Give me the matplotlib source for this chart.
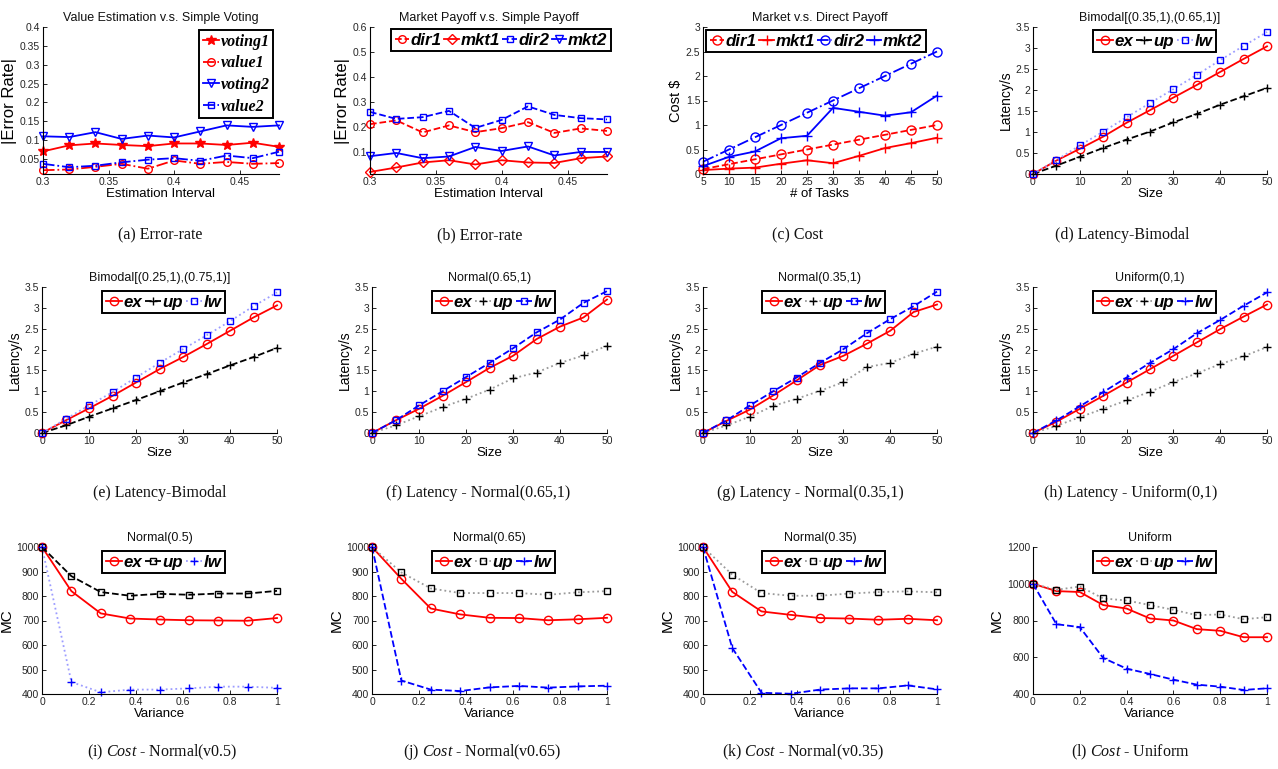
import matplotlib
matplotlib.use('Agg')
import matplotlib.pyplot as plt
from matplotlib.ticker import FuncFormatter
from matplotlib import font_manager

W, H = 1278, 769
plt.rcParams['font.family'] = ['Liberation Sans', 'DejaVu Sans']
plt.rcParams['mathtext.fontset'] = 'custom'
plt.rcParams['mathtext.rm'] = 'Liberation Serif'
plt.rcParams['mathtext.it'] = 'Liberation Serif:italic'
plt.rcParams['legend.numpoints'] = 1

_names = {f.name for f in font_manager.fontManager.ttflist}
LEG_FAMILY = 'Liberation Sans Narrow' if 'Liberation Sans Narrow' in _names else 'Liberation Sans'

# ---------------- data ----------------
est_interval = [0.30, 0.32, 0.34, 0.36, 0.38, 0.40, 0.42, 0.44, 0.46, 0.48]
a_voting1 = [0.070, 0.086, 0.091, 0.087, 0.084, 0.091, 0.091, 0.087, 0.093, 0.082]
a_value1 = [0.020, 0.022, 0.029, 0.037, 0.024, 0.046, 0.037, 0.042, 0.037, 0.039]
a_voting2 = [0.110, 0.108, 0.121, 0.103, 0.112, 0.107, 0.123, 0.139, 0.135, 0.139]
a_value2 = [0.037, 0.028, 0.032, 0.041, 0.048, 0.052, 0.045, 0.059, 0.052, 0.069]

b_dir1 = [0.212, 0.227, 0.179, 0.207, 0.180, 0.196, 0.220, 0.177, 0.195, 0.185]
b_mkt1 = [0.021, 0.039, 0.059, 0.068, 0.051, 0.068, 0.059, 0.057, 0.076, 0.083]
b_dir2 = [0.261, 0.233, 0.240, 0.265, 0.197, 0.229, 0.283, 0.249, 0.236, 0.231]
b_mkt2 = [0.084, 0.097, 0.076, 0.083, 0.121, 0.105, 0.123, 0.087, 0.101, 0.101]

tasks = [5, 10, 15, 20, 25, 30, 35, 40, 45, 50]
c_dir1 = [0.1, 0.2, 0.3, 0.4, 0.5, 0.6, 0.7, 0.8, 0.9, 1.0]
c_mkt1 = [0.08, 0.11, 0.13, 0.21, 0.28, 0.22, 0.37, 0.53, 0.63, 0.74]
c_dir2 = [0.25, 0.5, 0.75, 1.0, 1.25, 1.5, 1.75, 2.0, 2.25, 2.5]
c_mkt2 = [0.16, 0.35, 0.46, 0.73, 0.78, 1.35, 1.27, 1.19, 1.26, 1.60]

sizes = [0, 5, 10, 15, 20, 25, 30, 35, 40, 45, 50]
d_ex = [0, 0.32, 0.60, 0.89, 1.22, 1.52, 1.82, 2.12, 2.43, 2.74, 3.04]
d_up = [0, 0.20, 0.41, 0.62, 0.82, 1.01, 1.23, 1.43, 1.65, 1.85, 2.05]
d_lw = [0, 0.33, 0.68, 1.01, 1.35, 1.69, 2.02, 2.36, 2.71, 3.05, 3.38]

e_ex = [0, 0.30, 0.59, 0.89, 1.21, 1.53, 1.82, 2.13, 2.45, 2.77, 3.06]
e_up = [0, 0.18, 0.39, 0.59, 0.79, 1.00, 1.21, 1.41, 1.62, 1.82, 2.04]
e_lw = [0, 0.33, 0.66, 0.98, 1.33, 1.68, 2.01, 2.34, 2.68, 3.04, 3.37]

f_ex = [0, 0.30, 0.58, 0.89, 1.22, 1.56, 1.85, 2.25, 2.55, 2.77, 3.20]
f_up = [0, 0.18, 0.40, 0.62, 0.82, 1.04, 1.31, 1.45, 1.68, 1.86, 2.09]
f_lw = [0, 0.30, 0.66, 1.00, 1.34, 1.68, 2.03, 2.41, 2.72, 3.12, 3.40]

g_ex = [0, 0.29, 0.56, 0.90, 1.26, 1.63, 1.85, 2.14, 2.45, 2.90, 3.08]
g_up = [0, 0.18, 0.39, 0.65, 0.82, 1.01, 1.22, 1.58, 1.68, 1.90, 2.07]
g_lw = [0, 0.30, 0.66, 1.00, 1.33, 1.68, 2.01, 2.39, 2.73, 3.04, 3.39]

h_ex = [0, 0.27, 0.58, 0.89, 1.21, 1.53, 1.85, 2.17, 2.49, 2.79, 3.08]
h_up = [0, 0.17, 0.38, 0.58, 0.78, 0.99, 1.22, 1.43, 1.65, 1.84, 2.06]
h_lw = [0, 0.30, 0.64, 0.98, 1.33, 1.68, 2.01, 2.39, 2.71, 3.05, 3.37]

variance9 = [0, 0.125, 0.25, 0.375, 0.5, 0.625, 0.75, 0.875, 1.0]
i_ex = [1000, 820, 729, 708, 704, 701, 700, 699, 710]
i_up = [1000, 881, 816, 801, 809, 805, 810, 810, 821]
i_lw = [1000, 449, 407, 418, 418, 423, 430, 430, 425]

j_ex = [1000, 870, 749, 725, 711, 710, 701, 705, 711]
j_up = [1000, 896, 831, 812, 812, 812, 805, 815, 820]
j_lw = [1000, 455, 418, 412, 427, 433, 426, 431, 434]

k_ex = [1000, 817, 737, 723, 710, 708, 703, 707, 701]
k_up = [1000, 887, 812, 801, 801, 810, 816, 819, 815]
k_lw = [1000, 588, 405, 401, 418, 423, 423, 435, 419]

variance11 = [0, 0.1, 0.2, 0.3, 0.4, 0.5, 0.6, 0.7, 0.8, 0.9, 1.0]
l_ex = [1000, 960, 955, 884, 865, 811, 800, 753, 744, 709, 709]
l_up = [1000, 967, 985, 920, 909, 884, 858, 829, 833, 807, 818]
l_lw = [1000, 780, 764, 596, 538, 509, 478, 451, 440, 422, 431]

titles = ["Value Estimation v.s. Simple Voting", "Market Payoff v.s. Simple Payoff",
          "Market v.s. Direct Payoff", "Bimodal[(0.35,1),(0.65,1)]",
          "Bimodal[(0.25,1),(0.75,1)]", "Normal(0.65,1)", "Normal(0.35,1)", "Uniform(0,1)",
          "Normal(0.5)", "Normal(0.65)", "Normal(0.35)", "Uniform"]
captions = ["(a) Error-rate", "(b) Error-rate", "(c) Cost", "(d) Latency-Bimodal",
            "(e) Latency-Bimodal", "(f) Latency - Normal(0.65,1)",
            "(g) Latency - Normal(0.35,1)", "(h) Latency - Uniform(0,1)",
            r"(i) $\it{Cost}$ - Normal(v0.5)", r"(j) $\it{Cost}$ - Normal(v0.65)",
            r"(k) $\it{Cost}$ - Normal(v0.35)", r"(l) $\it{Cost}$ - Uniform"]

# ---------------- layout ----------------
fig = plt.figure(figsize=(W / 100, H / 100), dpi=100)

def rect(l, t, r, b):
    return [l / W, 1 - b / H, (r - l) / W, (b - t) / H]

cols1 = [(43, 279), (370, 607), (703, 937), (1033, 1267)]
cols = [(42, 277), (372, 607), (703, 937), (1033, 1267)]
rows = [(27, 174), (287, 433), (547, 694)]

fmt = FuncFormatter(lambda v, p: '%g' % round(v, 6))
TICKC = '#262626'

def make_ax(idx, xlim, ylim, xticks, yticks, xlabel, ylabel, ylsize=10):
    r, c = divmod(idx, 4)
    l, rr = (cols1 if r == 0 else cols)[c]
    t, b = rows[r]
    ax = fig.add_axes(rect(l, t, rr, b))
    ax.set_xlim(xlim)
    ax.set_ylim(ylim)
    ax.set_xticks(xticks)
    ax.set_yticks(yticks)
    ax.xaxis.set_major_formatter(fmt)
    ax.yaxis.set_major_formatter(fmt)
    for s in ('top', 'right'):
        ax.spines[s].set_visible(False)
    for s in ('left', 'bottom'):
        ax.spines[s].set_linewidth(0.8)
    ax.tick_params(direction='in', length=3, width=0.7, labelsize=7.5,
                   pad=2, colors=TICKC)
    ax.set_title(titles[idx], fontsize=9, pad=4, color='#111111')
    ax.set_xlabel(xlabel, fontsize=9.5, labelpad=1)
    ax.set_ylabel(ylabel, fontsize=ylsize, labelpad=2)
    return ax

def plot(ax, x, y, color, ls, marker, label, lc=None, ms=5.5, mfc='none'):
    ax.plot(x, y, color=lc or color, ls=ls, lw=1.3, marker=marker, ms=ms,
            mec=color, mfc=mfc, mew=1.0, label=label, clip_on=False)

def legend(ax, x, y, ncol, serif=False, size=12.2, hl=0.95):
    prop = dict(family=['Liberation Serif'] if serif else [LEG_FAMILY, 'Liberation Sans'],
                weight='bold', style='italic', size=size)
    lg = ax.legend(loc='upper left', bbox_to_anchor=(x / W, 1 - y / H),
                   bbox_transform=fig.transFigure, borderaxespad=0, ncol=ncol,
                   prop=prop, handlelength=hl, handletextpad=0.1,
                   columnspacing=0.15, borderpad=0.22,
                   labelspacing=0.36 if serif else 0.1,
                   fancybox=False, framealpha=1)
    lg.get_frame().set_edgecolor('black')
    lg.get_frame().set_linewidth(1.4)
    return lg

RED, BLUE, BLK = '#ff0000', '#0000ff', '#000000'
LBLUE, GREY = '#9c9cff', '#9a9a9a'

# (a)
ax = make_ax(0, (0.3, 0.48), (0.01, 0.4), [0.3, 0.35, 0.4, 0.45],
             [0.05, 0.1, 0.15, 0.2, 0.25, 0.3, 0.35, 0.4],
             'Estimation Interval', '|Error Rate|', ylsize=12)
plot(ax, est_interval, a_voting1, RED, '-', '*', 'voting1', ms=7, mfc=RED)
plot(ax, est_interval, a_value1, RED, '-.', 'o', 'value1')
plot(ax, est_interval, a_voting2, BLUE, '-', 'v', 'voting2')
plot(ax, est_interval, a_value2, BLUE, '-.', 's', 'value2', ms=5)
legend(ax, 199, 30, 1, serif=True, size=11.5, hl=1.05)

# (b)
ax = make_ax(1, (0.3, 0.48), (0.013, 0.6), [0.3, 0.35, 0.4, 0.45],
             [0.1, 0.2, 0.3, 0.4, 0.5, 0.6],
             'Estimation Interval', '|Error Rate|', ylsize=12)
plot(ax, est_interval, b_dir1, RED, '--', 'o', 'dir1')
plot(ax, est_interval, b_mkt1, RED, '-', 'D', 'mkt1', ms=5)
plot(ax, est_interval, b_dir2, BLUE, '--', 's', 'dir2', ms=5)
plot(ax, est_interval, b_mkt2, BLUE, '-', 'v', 'mkt2')
legend(ax, 391, 29, 4, hl=0.85)

# (c)
ax = make_ax(2, (5, 50), (0, 3), tasks, [0, 0.5, 1, 1.5, 2, 2.5, 3],
             '# of Tasks', 'Cost $', ylsize=10.5)
plot(ax, tasks, c_dir1, RED, '--', 'o', 'dir1', ms=6.5)
plot(ax, tasks, c_mkt1, RED, '-', '+', 'mkt1', ms=6.5)
plot(ax, tasks, c_dir2, BLUE, '-.', 'o', 'dir2', ms=6.5)
plot(ax, tasks, c_mkt2, BLUE, '-', '+', 'mkt2', ms=6.5)
legend(ax, 706, 30, 4, hl=0.85)

lat_ticks_y = [0, 0.5, 1, 1.5, 2, 2.5, 3, 3.5]
lat_ticks_x = [0, 10, 20, 30, 40, 50]

# (d)
ax = make_ax(3, (0, 50), (0, 3.5), lat_ticks_x, lat_ticks_y, 'Size', 'Latency/s')
plot(ax, sizes, d_ex, RED, '-', 'o', 'ex', ms=6)
plot(ax, sizes, d_up, BLK, '--', '+', 'up', ms=6)
plot(ax, sizes, d_lw, BLUE, ':', 's', 'lw', lc=LBLUE, ms=5)
legend(ax, 1093, 30, 3)

# (e)
ax = make_ax(4, (0, 50), (0, 3.5), lat_ticks_x, lat_ticks_y, 'Size', 'Latency/s')
plot(ax, sizes, e_ex, RED, '-', 'o', 'ex', ms=6)
plot(ax, sizes, e_up, BLK, '--', '+', 'up', ms=6)
plot(ax, sizes, e_lw, BLUE, ':', 's', 'lw', lc=LBLUE, ms=5)
legend(ax, 102, 291, 3)

# (f)
ax = make_ax(5, (0, 50), (0, 3.5), lat_ticks_x, lat_ticks_y, 'Size', 'Latency/s')
plot(ax, sizes, f_ex, RED, '-', 'o', 'ex', ms=6)
plot(ax, sizes, f_up, BLK, ':', '+', 'up', lc=GREY, ms=6)
plot(ax, sizes, f_lw, BLUE, '--', 's', 'lw', ms=5)
legend(ax, 432, 291, 3)

# (g)
ax = make_ax(6, (0, 50), (0, 3.5), lat_ticks_x, lat_ticks_y, 'Size', 'Latency/s')
plot(ax, sizes, g_ex, RED, '-', 'o', 'ex', ms=6)
plot(ax, sizes, g_up, BLK, ':', '+', 'up', lc=GREY, ms=6)
plot(ax, sizes, g_lw, BLUE, '--', 's', 'lw', ms=5)
legend(ax, 762, 291, 3)

# (h)
ax = make_ax(7, (0, 50), (0, 3.5), lat_ticks_x, lat_ticks_y, 'Size', 'Latency/s')
plot(ax, sizes, h_ex, RED, '-', 'o', 'ex', ms=6)
plot(ax, sizes, h_up, BLK, ':', '+', 'up', lc=GREY, ms=6)
plot(ax, sizes, h_lw, BLUE, '--', '+', 'lw', ms=6)
legend(ax, 1093, 291, 3)

mc_ticks = [400, 500, 600, 700, 800, 900, 1000]
var_ticks = [0, 0.2, 0.4, 0.6, 0.8, 1]

# (i)
ax = make_ax(8, (0, 1), (400, 1000), var_ticks, mc_ticks, 'Variance', 'MC', ylsize=11)
plot(ax, variance9, i_ex, RED, '-', 'o', 'ex', ms=6)
plot(ax, variance9, i_up, BLK, '--', 's', 'up', ms=5)
plot(ax, variance9, i_lw, BLUE, ':', '+', 'lw', lc=LBLUE, ms=6)
legend(ax, 102, 551, 3)

# (j)
ax = make_ax(9, (0, 1), (400, 1000), var_ticks, mc_ticks, 'Variance', 'MC', ylsize=11)
plot(ax, variance9, j_ex, RED, '-', 'o', 'ex', ms=6)
plot(ax, variance9, j_up, BLK, ':', 's', 'up', lc=GREY, ms=5)
plot(ax, variance9, j_lw, BLUE, '--', '+', 'lw', ms=6)
legend(ax, 432, 551, 3)

# (k)
ax = make_ax(10, (0, 1), (400, 1000), var_ticks, mc_ticks, 'Variance', 'MC', ylsize=11)
plot(ax, variance9, k_ex, RED, '-', 'o', 'ex', ms=6)
plot(ax, variance9, k_up, BLK, ':', 's', 'up', lc=GREY, ms=5)
plot(ax, variance9, k_lw, BLUE, '--', '+', 'lw', ms=6)
legend(ax, 762, 551, 3)

# (l)
ax = make_ax(11, (0, 1), (400, 1200), var_ticks, [400, 600, 800, 1000, 1200],
             'Variance', 'MC', ylsize=11)
plot(ax, variance11, l_ex, RED, '-', 'o', 'ex', ms=6)
plot(ax, variance11, l_up, BLK, ':', 's', 'up', lc=GREY, ms=5)
plot(ax, variance11, l_lw, BLUE, '--', '+', 'lw', ms=6)
legend(ax, 1093, 551, 3)

# captions
cap_x = [160, 480, 798, 1122, 160, 478, 810, 1131, 162, 482, 803, 1130]
cap_y = [235, 493, 752]
for n, (cx, txt) in enumerate(zip(cap_x, captions)):
    fig.text(cx / W, 1 - cap_y[n // 4] / H, txt, ha='center', va='center',
             fontsize=11.5, family='Liberation Serif', color='#111111')

fig.savefig('out.png', dpi=100)
